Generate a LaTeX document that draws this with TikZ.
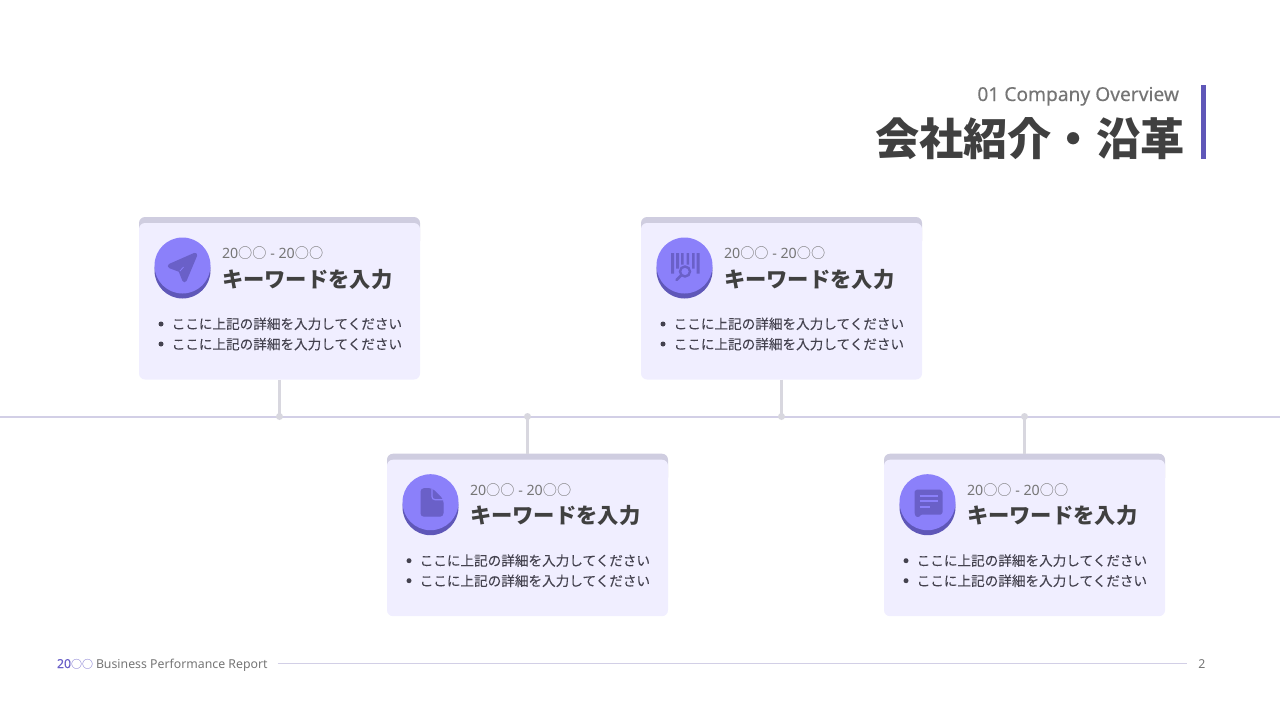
\documentclass[tikz,border=0pt]{standalone}
\usepackage{fontspec}
\setmainfont{Noto Sans}
\newfontfamily\cjk{Noto Sans CJK JP}
\newfontfamily\heavyfont[FakeBold=0.35]{Noto Sans}
\newfontfamily\cjkbody[FakeBold=0.04]{Noto Sans CJK JP}
\definecolor{violet1}{HTML}{8B80FA}
\definecolor{violet2}{HTML}{5F57B8}
\definecolor{violet3}{HTML}{6A60C8}
\definecolor{cardbg}{HTML}{F0EEFF}
\definecolor{cardtop}{HTML}{CFCDE0}
\definecolor{stemgray}{HTML}{D8D7DF}
\definecolor{axisline}{HTML}{D2CFE6}
\definecolor{inkdark}{HTML}{404040}
\definecolor{inkbody}{HTML}{44424F}
\definecolor{inkgray}{HTML}{757575}
\newcommand{\yearrange}{20{\cjk ○○} - 20{\cjk ○○}}
\newcommand{\bodyline}{{\cjkbody ここに上記の詳細を入力してください}}
% card at top left corner (#2,#3), icon in #4
\newcommand{\timecard}[4]{
\draw (#2+140.5,#3+15) node[cardback] (#1) {};
\draw (#2+140.5,#3+84.25) node[cardfront] (#1body) {};
\draw (#2+43.5,#3+53.5) node[disc,fill=violet2] (#1low) {};
\draw (#2+43.5,#3+48.5) node[disc,fill=violet1] (#1icon) {};
\begin{scope}[shift={(#1icon.center)}]
#4
\end{scope}
\draw (#2+83,#3+41.5) node[yeartext] (#1year) {\yearrange};
\draw (#2+83,#3+70) node[headtext] (#1head) {キーワードを入力};
\draw (#2+22,#3+107) node[bullet] (#1dota) {};
\draw (#2+22,#3+127) node[bullet] (#1dotb) {};
\draw (#2+32.7,#3+112) node[bodytext] (#1linea) {\bodyline};
\draw (#2+32.7,#3+132.3) node[bodytext] (#1lineb) {\bodyline};
}
\begin{document}
\begin{tikzpicture}[x=1pt,y=-1pt,inner sep=0pt,outer sep=0pt,
cardback/.style={fill=cardtop,rounded corners=6pt,minimum width=281pt,minimum height=30pt},
cardfront/.style={fill=cardbg,rounded corners=6pt,minimum width=281pt,minimum height=156.5pt},
disc/.style={circle,minimum size=56pt},
yeartext/.style={anchor=base west,font=\fontsize{14.2}{16}\selectfont,text=inkgray},
headtext/.style={anchor=base west,font=\cjk\bfseries\fontsize{21.3}{24}\selectfont,text=inkdark},
bodytext/.style={anchor=base west,font=\fontsize{13.6}{16}\selectfont,text=inkbody},
bullet/.style={circle,fill=inkbody,minimum size=5pt},
stem/.style={draw=stemgray,line width=3pt},
stemdot/.style={circle,fill=stemgray,minimum size=7pt},
icon/.style={fill=violet3,draw=violet3,line join=round}]
\useasboundingbox (0,0) rectangle (1280,720);
% header
\draw (1179,101) node[anchor=base east,font=\heavyfont\fontsize{19.2}{22}\selectfont,text=inkgray] (subtitle) {01 Company Overview};
\draw (1184.5,155) node[anchor=base east,font=\cjk\bfseries\fontsize{44.2}{50}\selectfont,text=inkdark] (title) {会社紹介・沿革};
\draw (1203.5,122) node[fill=violet2,minimum width=5pt,minimum height=74pt] (titlebar) {};
% axis
\coordinate (axisL) at (0,417);
\coordinate (axisR) at (1280,417);
\draw[axisline,line width=1.5pt] (axisL) -- (axisR);
\draw (279.5,416.5) node[stemdot] (dot1) {};
\draw (527.5,416.5) node[stemdot] (dot2) {};
\draw (781.5,416.5) node[stemdot] (dot3) {};
\draw (1024.5,416.5) node[stemdot] (dot4) {};
% cards
\timecard{card1}{139}{217}{
\filldraw[icon,line width=4.5pt] (12.5,-10.5) -- (-12.5,0.5) -- (-2,4.5) -- (2,14.5) -- cycle;
\draw[violet1,line width=.8pt] (-2.5,5.5) -- (1,1.5);
}
\timecard{card2}{387}{453.7}{
\filldraw[icon,line width=1pt,rounded corners=3pt] (-9.5,-13.5) -- (1.5,-13.5) -- (12.5,-2.5) -- (12.5,14) -- (-9.5,14) -- cycle;
\draw[violet1,line width=1.2pt,rounded corners=3pt] (1.5,-13.5) -- (1.5,-2.5) -- (12.5,-2.5);
}
\timecard{card3}{641}{217}{
\fill[violet3] (-13.5,-12.5) rectangle (-10.5,8) (-8.5,-12.5) rectangle (-5.5,3) (-3.5,-12.5) rectangle (-1,-1) (2,-12.5) rectangle (4.5,-1) (7.5,-12.5) rectangle (10,3) (12,-12.5) rectangle (15,8);
\draw[violet3,line width=2.4pt] (.5,6) circle (5pt);
\draw[violet3,line width=2.6pt,line cap=round] (-3.5,10) -- (-8,14.5);
}
\timecard{card4}{884}{453.7}{
\filldraw[icon,line width=3pt,rounded corners=1pt] (-11.5,-11) -- (13.5,-11) -- (13.5,11) -- (-7,11) -- (-10,14) -- (-11.5,11) -- cycle;
\draw[violet1,line width=1.6pt] (-8,-6.5) -- (10,-6.5) (-8,-1) -- (10,-1) (-8,4.5) -- (2,4.5);
}
\draw[stem] (card1body.south) -- (dot1.center);
\draw[stem] (card2.north) -- (dot2.center);
\draw[stem] (card3body.south) -- (dot3.center);
\draw[stem] (card4.north) -- (dot4.center);
% footer
\draw (57,668) node[anchor=base west,font=\fontsize{12.3}{14}\selectfont,text=violet3] (footyear) {{\heavyfont 20}{\cjk\fontsize{11}{12}\selectfont ○○}};
\draw (96,668) node[anchor=base west,font=\fontsize{12.3}{14}\selectfont,text=inkgray] (foottext) {Business Performance Report};
\draw (1202,668) node[anchor=base,font=\fontsize{12.3}{14}\selectfont,text=inkgray] (pagenum) {2};
\draw[axisline,line width=1.2pt] (foottext.east |- 0,663.5) ++(10,0) coordinate (footL) -- (1187,663.5) coordinate (footR);
\end{tikzpicture}
\end{document}
